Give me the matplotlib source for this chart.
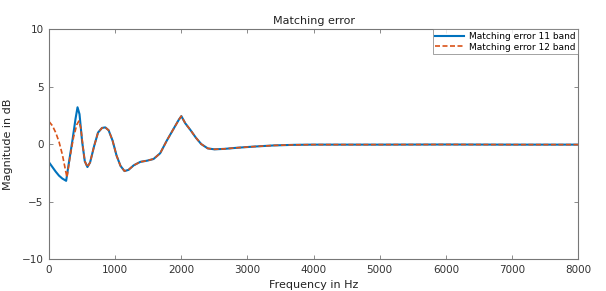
import numpy as np
import matplotlib.pyplot as plt

# frequency points (Hz) and matching error (dB)
freq_11 = [0, 50, 100, 150, 200, 258, 300, 350, 400, 430, 460, 500, 540, 580,
           620, 680, 740, 800, 850, 900, 960, 1020, 1080, 1140, 1200, 1280,
           1380, 1480, 1580, 1680, 1780, 1880, 1960, 2000, 2060, 2140, 2220,
           2300, 2400, 2500, 2650, 2850, 3100, 3400, 3700, 4000, 5000, 6000,
           7000, 8000]
err_11 = [-1.6, -2.0, -2.4, -2.75, -3.0, -3.2, -1.6, 0.2, 2.2, 3.2, 2.6, 0.2,
          -1.5, -2.0, -1.6, -0.2, 1.0, 1.4, 1.45, 1.2, 0.3, -1.0, -1.9, -2.35,
          -2.25, -1.85, -1.55, -1.45, -1.3, -0.8, 0.3, 1.3, 2.1, 2.43, 1.8,
          1.2, 0.55, 0.0, -0.38, -0.46, -0.42, -0.32, -0.22, -0.12, -0.07,
          -0.05, -0.05, -0.04, -0.05, -0.05]

freq_12 = [0, 50, 100, 150, 200, 270, 320, 370, 420, 450, 480, 520] + freq_11[12:]
err_12 = [1.95, 1.6, 1.0, 0.2, -0.9, -2.9, -1.0, 0.6, 1.7, 2.0, 1.4, -0.6] + err_11[12:]

labels = ['Matching error 11 band', 'Matching error 12 band']

axis_col = '#777777'
text_col = '#333333'

fig = plt.figure(figsize=(6.06, 2.91), dpi=100)
ax = fig.add_axes([0.081, 0.110, 0.873, 0.790])

ax.plot(freq_11, err_11, color='#0072BD', lw=1.5, label=labels[0])
ax.plot(freq_12, err_12, color='#D95319', lw=1.2, ls='--', dashes=(3, 1.5),
        label=labels[1])

ax.set_xlim(0, 8000)
ax.set_ylim(-10, 10)
ax.set_xticks(np.arange(0, 8001, 1000))
ax.set_yticks([-10, -5, 0, 5, 10])
ax.tick_params(direction='in', top=True, right=True, length=3, width=0.6,
               color=axis_col, labelcolor=text_col, labelsize=7.5, pad=4)
for sp in ax.spines.values():
    sp.set_color(axis_col)
    sp.set_linewidth(0.8)

ax.set_title('Matching error', fontsize=8, color='#222222', pad=4)
ax.set_xlabel('Frequency in Hz', fontsize=8, color='#222222', labelpad=4)
ax.set_ylabel('Magnitude in dB', fontsize=8, color='#222222', labelpad=6)

leg = ax.legend(loc='upper right', fontsize=6.5, frameon=True, fancybox=False,
                borderaxespad=0, handlelength=3.2, borderpad=0.3,
                labelspacing=0.2, handletextpad=0.5)
leg.get_frame().set_edgecolor(axis_col)
leg.get_frame().set_linewidth(0.6)

fig.savefig('out.png', dpi=100)
